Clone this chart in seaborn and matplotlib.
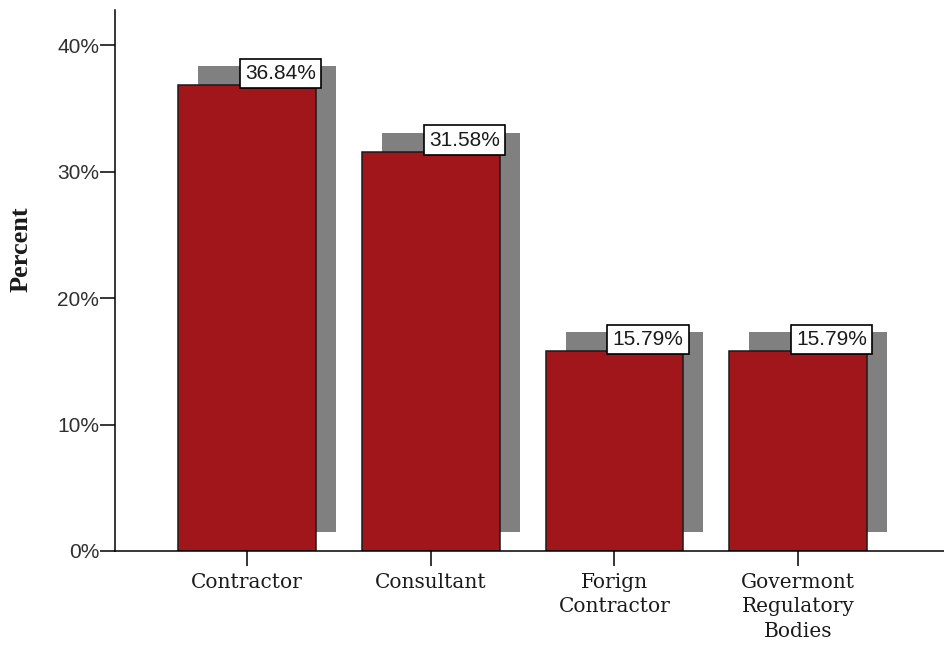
import matplotlib
matplotlib.use("Agg")
import matplotlib.pyplot as plt
import matplotlib.transforms as mtransforms
from matplotlib.ticker import FuncFormatter, FixedLocator
import seaborn as sns
import pandas as pd

categories = ["Contractor", "Consultant", "Forign\nContractor", "Govermont\nRegulatory\nBodies"]
percents = [36.84, 31.58, 15.79, 15.79]
yticks = [0, 10, 20, 30, 40]

df = pd.DataFrame({"cat": categories, "pct": percents})

sns.set_style("white")
plt.rcParams['font.family'] = ['Liberation Sans', 'DejaVu Sans']

fig = plt.figure(figsize=(9.45, 6.5), dpi=100)
ax = fig.add_axes([115/945, 99/650, 1 - 115/945, (551 - 10)/650])

red = "#A0161B"
grey = "#808080"
bw = 0.75

# shadow bars
sns.barplot(data=df, x="cat", y="pct", color=grey, width=bw, saturation=1,
            linewidth=0, ax=ax, zorder=1)
shadow = list(ax.patches)
off = mtransforms.ScaledTranslation(20/100, 19/100, fig.dpi_scale_trans)
for p in shadow:
    p.set_transform(ax.transData + off)
    p.set_facecolor(grey)
    p.set_edgecolor("none")

# main bars
sns.barplot(data=df, x="cat", y="pct", color=red, width=bw, saturation=1,
            edgecolor="#1a1a1a", linewidth=1.1, ax=ax, zorder=2)

ax.set_xlim(-0.72, 3.80)
ax.set_ylim(0, 42.8)
ax.yaxis.set_major_locator(FixedLocator(yticks))
ax.yaxis.set_major_formatter(FuncFormatter(lambda v, _: f"{v:.0f}%"))

for i, v in enumerate(percents):
    ax.annotate(f"{v:.2f}%", xy=(i + bw/2, v), xytext=(0, 8.5),
                textcoords="offset points", ha="right", va="center",
                fontsize=15, color="#1a1a1a", zorder=5,
                bbox=dict(boxstyle="square,pad=0.25", fc="white", ec="black", lw=1.2))

for s in ["top", "right"]:
    ax.spines[s].set_visible(False)
for s in ["left", "bottom"]:
    ax.spines[s].set_color("black")
    ax.spines[s].set_linewidth(1.1)

ax.tick_params(axis="y", direction="out", length=10.5, width=1.1, color="black",
               labelsize=15, labelcolor="#303030", left=True, pad=1)
ax.tick_params(axis="x", direction="out", length=11, width=1.1, color="black",
               bottom=True, pad=5)
for lab in ax.get_xticklabels():
    lab.set_fontfamily(["DejaVu Serif"])
    lab.set_fontsize(14.5)
    lab.set_linespacing(1.35)
    lab.set_color("#1a1a1a")

ax.set_xlabel("")
ax.set_ylabel("Percent", fontsize=19, fontweight="bold",
              fontfamily=["Liberation Serif", "DejaVu Serif"], color="#1a1a1a")
ax.yaxis.set_label_coords(-(115 - 33)/830, (551 - 249)/541)

fig.savefig("out.png", dpi=100)
